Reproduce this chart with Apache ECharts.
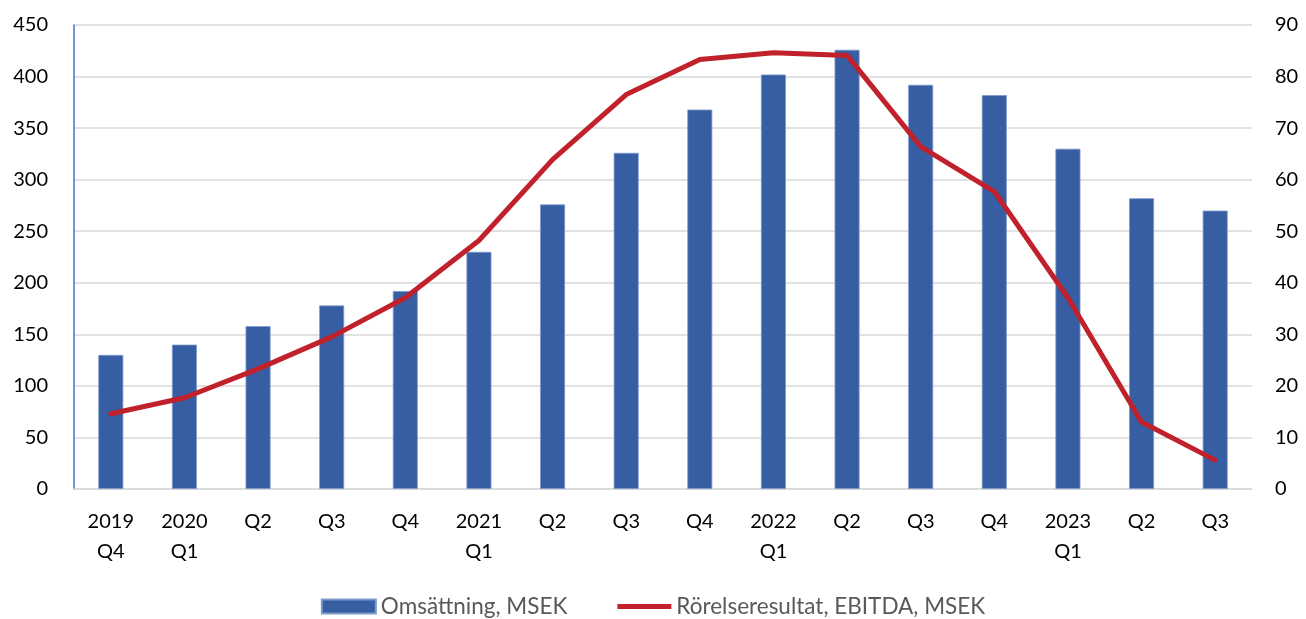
<!DOCTYPE html>
<html>
<head>
<meta charset="utf-8">
<script src="https://cdn.jsdelivr.net/npm/echarts@6/dist/echarts.min.js"></script>
<style>
  html, body { margin: 0; padding: 0; background: #fff; }
  #chart { width: 1306px; height: 619px; }
</style>
</head>
<body>
<div id="chart"></div>
<script>
// data
const categories = ['2019\nQ4', '2020\nQ1', 'Q2', 'Q3', 'Q4', '2021\nQ1', 'Q2', 'Q3', 'Q4', '2022\nQ1', 'Q2', 'Q3', 'Q4', '2023\nQ1', 'Q2', 'Q3'];
const omsattning = [130, 140, 158, 178, 192, 230, 276, 326, 368, 402, 426, 392, 382, 330, 282, 270];
const ebitda = [14.6, 17.7, 23.3, 29.5, 37.1, 48.2, 63.9, 76.5, 83.3, 84.6, 84.1, 66.4, 57.7, 37.1, 13.0, 5.6];
const seriesNames = ['Omsättning, MSEK', 'Rörelseresultat, EBITDA, MSEK'];

const font = 'Lato, "Open Sans", sans-serif';

// legend icon for the line: thick bar in the middle, tiny dots keep the box 54x14
const lineIcon = 'path://M0,0 L0.01,0 L0,0.01 Z M0,4.5 L54,4.5 L54,9.5 L0,9.5 Z M54,14 L53.99,14 L54,13.99 Z';

var option = {
    animation: false,
    backgroundColor: '#fff',
    grid: { left: 74, right: 54, top: 25, bottom: 130 },
    legend: {
        bottom: -4,
        left: 'center',
        itemGap: 50,
        itemWidth: 54,
        itemHeight: 14,
        textStyle: { fontFamily: font, fontSize: 22.5, color: '#595959' },
        data: [
            { name: seriesNames[0], icon: 'rect' },
            { name: seriesNames[1], icon: lineIcon }
        ]
    },
    xAxis: {
        type: 'category',
        data: categories,
        axisLine: { lineStyle: { color: '#d9d9d9', width: 1.5 } },
        axisTick: { show: false },
        axisLabel: { fontFamily: font, fontSize: 20, color: '#000', margin: 18, lineHeight: 30, interval: 0 }
    },
    yAxis: [
        {
            type: 'value',
            min: 0, max: 450, interval: 50,
            axisLine: { show: true, lineStyle: { color: '#4472C4', width: 1.5 } },
            axisTick: { show: false },
            splitLine: { lineStyle: { color: '#d9d9d9', width: 1.5 } },
            axisLabel: { fontFamily: font, fontSize: 20, color: '#000', margin: 26 }
        },
        {
            type: 'value',
            min: 0, max: 90, interval: 10,
            axisLine: { show: false },
            axisTick: { show: false },
            splitLine: { show: false },
            axisLabel: { fontFamily: font, fontSize: 20, color: '#000', margin: 23 }
        }
    ],
    series: [
        {
            name: seriesNames[0],
            type: 'bar',
            data: omsattning,
            barWidth: 25,
            itemStyle: { color: '#375DA3', borderColor: '#7E9ACB', borderWidth: 0.8 }
        },
        {
            name: seriesNames[1],
            type: 'line',
            yAxisIndex: 1,
            data: ebitda,
            symbol: 'none',
            lineStyle: { color: '#C0212A', width: 5, cap: 'round', join: 'round' },
            itemStyle: { color: '#C0212A' }
        }
    ]
};

var myChart = echarts.init(document.getElementById('chart'));
myChart.setOption(option);
</script>
</body>
</html>
